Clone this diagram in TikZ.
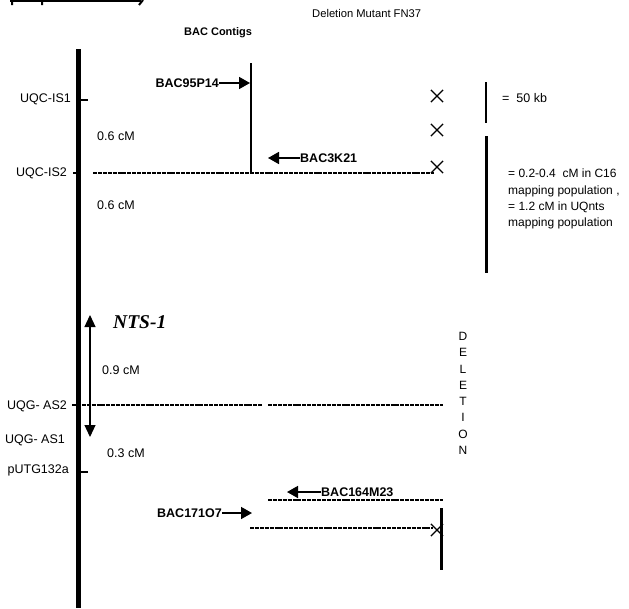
\documentclass[tikz,border=0pt]{standalone}
\usepackage{fontspec}
\setmainfont{Liberation Sans}
\newfontfamily\ntsfont{Liberation Serif}
\usetikzlibrary{arrows.meta,shapes.misc}
\begin{document}
\begin{tikzpicture}[x=1pt,y=-1pt,
  lbl/.style={font=\fontsize{12.5}{14}\selectfont, inner sep=0pt},
  baclbl/.style={font=\bfseries\fontsize{12.5}{14}\selectfont, inner sep=0pt},
  dline/.style={line width=2.2pt, dash pattern=on 4pt off 0.9pt},
  tick/.style={line width=2pt},
  rarrow/.style={line width=1.6pt, -{Triangle[length=11pt,width=12pt]}},
  xmark/.style={cross out, draw, line width=1.2pt, minimum width=11pt, minimum height=11pt, inner sep=0pt}]
\useasboundingbox (0,0) rectangle (629,608);

% cropped fragment at the top
\draw[line width=2.5pt] (10,1) -- (141,1);
\draw[line width=2pt] (12,0) -- (12,5) (42,0) -- (42,5) (139,5) -- (143,0);

% titles
\node[lbl, font=\fontsize{11.2}{13}\selectfont, anchor=west] (deltitle) at (312,13) {Deletion Mutant FN37};
\node[baclbl, font=\bfseries\fontsize{11}{13}\selectfont, anchor=west] (bactitle) at (184,33) {BAC Contigs};

% chromosome
\coordinate (chrTop) at (78.5,49);
\coordinate (chrBot) at (78.5,608);
\draw[line width=5pt] (chrTop) -- (chrBot);

% markers
\node[lbl, anchor=east] (is1) at (71,99) {UQC-IS1};
\coordinate (is1a) at (76,100); \coordinate (is1b) at (88,100);
\draw[tick] (is1a) -- (is1b);
\node[lbl, anchor=west] (d1) at (97,136) {0.6 cM};
\node[lbl, anchor=east] (is2) at (67,173) {UQC-IS2};
\coordinate (is2a) at (73,173); \coordinate (is2b) at (80,173);
\draw[tick] (is2a) -- (is2b);
\coordinate (is2s) at (93,173); \coordinate (is2e) at (434,173);
\draw[dline] (is2s) -- (is2e);
\node[lbl, anchor=west] (d2) at (97,205) {0.6 cM};

% BAC95P14
\coordinate (b95top) at (250.7,63); \coordinate (b95bot) at (250.7,173);
\draw[line width=2pt] (b95top) -- (b95bot);
\node[baclbl, anchor=east] (b95) at (219,83) {BAC95P14};
\coordinate (b95tip) at (250,83);
\draw[rarrow] (b95.east) -- (b95tip);

% BAC3K21
\node[baclbl, anchor=west] (b3k) at (300,158) {BAC3K21};
\coordinate (b3ktip) at (268,158);
\draw[rarrow] (b3k.west) -- (b3ktip);

% deletion crosses
\node[xmark] (x1) at (437,96) {};
\node[xmark] (x2) at (437,130) {};
\node[xmark] (x3) at (437,167) {};

% scale bars
\coordinate (s1a) at (486,82); \coordinate (s1b) at (486,123);
\draw[line width=2pt] (s1a) -- (s1b);
\node[lbl, anchor=west] (s1t) at (502,98) {=\ \ 50 kb};
\coordinate (s2a) at (486,136); \coordinate (s2b) at (486,273);
\draw[line width=3pt] (s2a) -- (s2b);
\node[lbl, font=\fontsize{12}{16.3}\selectfont, anchor=north west, align=left] (s2t) at (508,169)
  {= 0.2-0.4\ \ cM in C16\\ mapping population ,\\ = 1.2 cM in UQnts\\ mapping population};

% NTS-1
\coordinate (ntsA) at (90,315); \coordinate (ntsB) at (90,437);
\draw[line width=1.2pt, {Triangle[length=12pt,width=11pt]}-{Triangle[length=12pt,width=11pt]}] (ntsA) -- (ntsB);
\node[inner sep=0pt, font=\ntsfont\bfseries\itshape\fontsize{19.5}{21}\selectfont, anchor=west] (nts) at (113,322) {NTS-1};
\node[lbl, anchor=west] (d3) at (102,370) {0.9 cM};

\node[lbl, anchor=east] (as2) at (67,406) {UQG- AS2};
\coordinate (as2a) at (72,405); \coordinate (as2m) at (263,405);
\coordinate (as2n) at (268,405); \coordinate (as2e) at (443,405);
\draw[dline] (as2a) -- (as2m);
\draw[dline] (as2n) -- (as2e);
\node[lbl, anchor=east] (as1) at (65,440) {UQG- AS1};
\node[lbl, anchor=west] (d4) at (107,453) {0.3 cM};
\node[lbl, anchor=east] (putg) at (69,470) {pUTG132a};
\coordinate (pa) at (76,472); \coordinate (pb) at (88,472);
\draw[tick] (pa) -- (pb);

% DELETION
\node[lbl, font=\fontsize{12}{16.3}\selectfont, align=center, anchor=north] (delword) at (463,332)
  {D\\E\\L\\E\\T\\I\\O\\N};

% BAC164M23
\node[baclbl, anchor=west] (b164) at (321,492) {BAC164M23};
\coordinate (b164tip) at (287,492);
\draw[rarrow] (b164.west) -- (b164tip);
\coordinate (b164a) at (268,500); \coordinate (b164b) at (443,500);
\draw[dline] (b164a) -- (b164b);

% BAC171O7
\node[baclbl, anchor=east] (b171) at (222,513) {BAC171O7};
\coordinate (b171tip) at (252,513);
\draw[rarrow] (b171.east) -- (b171tip);
\coordinate (b171a) at (250,528); \coordinate (b171b) at (433,528);
\draw[dline] (b171a) -- (b171b);
\node[xmark] (x4) at (437,530) {};
\coordinate (bar3a) at (441,508); \coordinate (bar3b) at (441,570);
\draw[line width=3pt] (bar3a) -- (bar3b);
\end{tikzpicture}
\end{document}
